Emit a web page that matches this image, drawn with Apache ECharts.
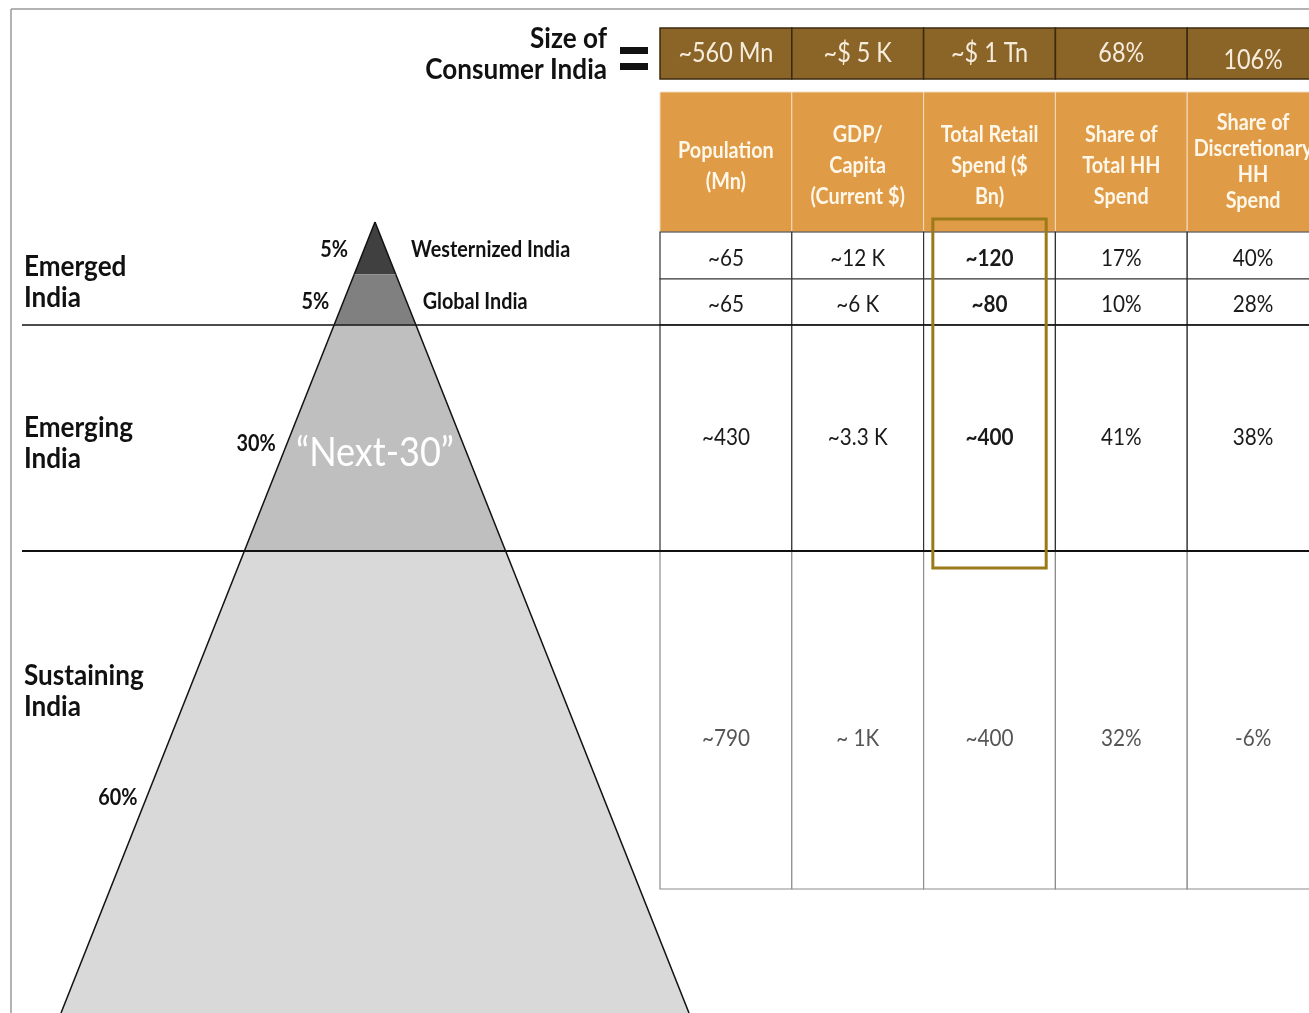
<!DOCTYPE html>
<html>
<head>
<meta charset="utf-8">
<script src="https://cdn.jsdelivr.net/npm/echarts@6/dist/echarts.min.js"></script>
<style>
  html, body { margin: 0; padding: 0; background: #fff; }
  #main { width: 1309px; height: 1013px; }
</style>
</head>
<body>
<div id="main"></div>
<script>
"use strict";

// ---- data ----
var tiers = ["Westernized India", "Global India", "\u201cNext-30\u201d", "Sustaining India"];
var tierShare = [5, 5, 30, 60];
var groups = ["Emerged\nIndia", "Emerging\nIndia", "Sustaining\nIndia"];
var columns = [
  "Population\n(Mn)",
  "GDP/\nCapita\n(Current $)",
  "Total Retail\nSpend ($\nBn)",
  "Share of\nTotal HH\nSpend",
  "Share of\nDiscretionary\nHH\nSpend"
];
var totals = ["~560 Mn", "~$ 5 K", "~$ 1 Tn", "68%", "106%"];
var population = ["~65", "~65", "~430", "~790"];
var gdpPerCapita = ["~12 K", "~6 K", "~3.3 K", "~ 1K"];
var retailSpend = ["~120", "~80", "~400", "~400"];
var shareOfTotal = ["17%", "10%", "41%", "32%"];
var shareOfDisc = ["40%", "28%", "38%", "-6%"];

// ---- layout ----
var FONT = "Lato, 'Open Sans', sans-serif";
var SQUEEZE = 0.9;
var tierColors = ["#404040", "#808080", "#bfbfbf", "#d9d9d9"];
var pyramidBreaks = [0, 0.066, 0.13, 0.416, 1];
var shareDepth = [0.0354, 0.101, 0.281, 0.728];
var shareGap = [16, 14, 11, 9];
var nameGap = [25, 16];
var bandRow = [28, 79];
var headRow = [92, 232];
var bodyRows = [232, 279, 325, 551, 889];
var bodyTextY = [259, 305, 438, 739];
var bandTextDy = [0, 0, 0, 0, 7];
var highlightRows = [219, 568];
var groupY = [282, 443, 691];

var colVals = [population, gdpPerCapita, retailSpend, shareOfTotal, shareOfDisc];

function txt(x, y, text, o) {
  return {
    type: "text", x: x, y: y, scaleX: SQUEEZE,
    style: {
      text: text,
      fill: o.fill || "#111",
      fontFamily: FONT,
      fontSize: o.size || 22,
      fontWeight: o.weight || "normal",
      lineHeight: o.lh,
      align: o.align || "center",
      verticalAlign: "middle"
    }
  };
}

function renderTier(params, api) {
  var i = api.value(0);
  var d0 = pyramidBreaks[i], d1 = pyramidBreaks[i + 1];
  var a = api.coord([-d0, d0]), b = api.coord([d0, d0]);
  var c = api.coord([d1, d1]), d = api.coord([-d1, d1]);
  var kids = [
    { type: "polygon", shape: { points: [a, b, c, d] }, style: { fill: tierColors[i] } },
    { type: "line", shape: { x1: a[0], y1: a[1], x2: d[0], y2: d[1] }, style: { stroke: "#111", lineWidth: 1.5 } },
    { type: "line", shape: { x1: b[0], y1: b[1], x2: c[0], y2: c[1] }, style: { stroke: "#111", lineWidth: 1.5 } }
  ];
  var sd = shareDepth[i];
  var lp = api.coord([-sd, sd]);
  kids.push(txt(lp[0] - shareGap[i], lp[1], api.value(1) + "%", { size: 22, weight: "bold", align: "right" }));
  if (i < 2) {
    var rp = api.coord([sd, sd]);
    kids.push(txt(rp[0] + nameGap[i], rp[1], tiers[i], { size: 22, weight: "bold", align: "left" }));
  } else if (i === 2) {
    var mp = api.coord([0, 0.292]);
    kids.push(txt(mp[0], mp[1], tiers[i], { size: 40, fill: "#ffffff" }));
  }
  return { type: "group", children: kids };
}

function cellBox(api, col, rows) {
  var cx = api.coord([col, 0])[0];
  var w = api.size([1, 0])[0];
  var t = api.coord([col, rows[0]])[1], bt = api.coord([col, rows[1]])[1];
  return { cx: cx, x: cx - w / 2, w: w, t: t, b: bt };
}

function renderBand(params, api) {
  var col = api.value(0);
  var k = cellBox(api, col, bandRow);
  return { type: "group", children: [
    { type: "rect", shape: { x: k.x, y: k.t, width: k.w, height: k.b - k.t },
      style: { fill: "#8b6428", stroke: "#3b2a10", lineWidth: 1.5 } },
    txt(k.cx, (k.t + k.b) / 2 + bandTextDy[col], totals[col], { size: 26, fill: "#f6ecdc" })
  ] };
}

function renderHead(params, api) {
  var col = api.value(0);
  var k = cellBox(api, col, headRow);
  var lines = columns[col].split("\n").length;
  return { type: "group", children: [
    { type: "rect", shape: { x: k.x, y: k.t, width: k.w, height: k.b - k.t },
      style: { fill: "#df9b45", stroke: "#f4dcc0", lineWidth: 1 } },
    txt(k.cx, (k.t + k.b) / 2 + (lines > 3 ? 0 : 4), columns[col],
      { size: 22, weight: "bold", fill: "#fff7ea", lh: lines > 3 ? 26 : 31 })
  ] };
}

function renderCell(params, api) {
  var col = api.value(0), r = api.value(1);
  var k = cellBox(api, col, [bodyRows[r], bodyRows[r + 1]]);
  var ty = api.coord([col, bodyTextY[r]])[1];
  var last = r === bodyRows.length - 2;
  return { type: "group", children: [
    { type: "rect", shape: { x: k.x, y: k.t, width: k.w, height: k.b - k.t },
      style: { fill: "#fff", stroke: last ? "#8c8c8c" : "#333", lineWidth: 1.2 } },
    txt(k.cx, ty, colVals[col][r], {
      size: 23, fill: last ? "#555" : "#1a1a1a",
      weight: (col === 2 && !last) ? "bold" : "normal"
    })
  ] };
}

function renderHighlight(params, api) {
  var col = api.value(0);
  var k = cellBox(api, col, highlightRows);
  var w = k.w * 0.86;
  return { type: "rect", shape: { x: k.cx - w / 2, y: k.t, width: w, height: k.b - k.t },
    style: { fill: "none", stroke: "#9b7a1a", lineWidth: 3 } };
}

function renderSeparator(params, api) {
  var r = api.value(0);
  var y = api.coord([0, bodyRows[r]])[1];
  return { type: "line", shape: { x1: 22, y1: y, x2: 1309, y2: y },
    style: { stroke: "#111", lineWidth: r === 3 ? 1.8 : 1.3 } };
}

function groupLabel(i) {
  return { type: "text", x: 24, y: groupY[i], scaleX: SQUEEZE,
    style: { text: groups[i], fill: "#111", fontFamily: FONT, fontSize: 29, fontWeight: "bold",
      lineHeight: 31, verticalAlign: "middle" } };
}

var cells = [];
for (var c = 0; c < columns.length; c++) {
  for (var r = 0; r < population.length; r++) cells.push([c, r]);
}

var chart = echarts.init(document.getElementById("main"));
chart.setOption({
  animation: false,
  backgroundColor: "#ffffff",
  grid: [
    { left: 61, top: 222, width: 628, height: 791 },
    { left: 660, top: 0, right: 0, bottom: 0 }
  ],
  xAxis: [
    { gridIndex: 0, type: "value", min: -1, max: 1, show: false },
    // table columns: 5 columns of ~131.8px, the last one runs past the right edge
    { gridIndex: 1, type: "value", min: -0.5, max: 4.424, show: false }
  ],
  yAxis: [
    { gridIndex: 0, type: "value", min: 0, max: 1, inverse: true, show: false },
    { gridIndex: 1, type: "value", min: 0, max: 1013, inverse: true, show: false }
  ],
  graphic: [
    { type: "line", shape: { x1: 11, y1: 9, x2: 1309, y2: 9 }, style: { stroke: "#b3b3b3", lineWidth: 2 } },
    { type: "line", shape: { x1: 11, y1: 9, x2: 11, y2: 1013 }, style: { stroke: "#9a9a9a", lineWidth: 1.5 } },
    { type: "text", x: 607, y: 54, scaleX: SQUEEZE, style: { text: "Size of\nConsumer India", fill: "#111", fontFamily: FONT,
      fontSize: 29, fontWeight: "bold", lineHeight: 31, align: "right", verticalAlign: "middle" } },
    { type: "rect", shape: { x: 620, y: 47, width: 28, height: 7 }, style: { fill: "#111" } },
    { type: "rect", shape: { x: 620, y: 63, width: 28, height: 7 }, style: { fill: "#111" } },
    groupLabel(0), groupLabel(1), groupLabel(2)
  ],
  series: [
    { type: "custom", name: "pyramid", xAxisIndex: 0, yAxisIndex: 0, renderItem: renderTier,
      data: tierShare.map(function (v, i) { return [i, v]; }) },
    { type: "custom", name: "totals", xAxisIndex: 1, yAxisIndex: 1, renderItem: renderBand,
      data: totals.map(function (v, i) { return [i, 0]; }) },
    { type: "custom", name: "header", xAxisIndex: 1, yAxisIndex: 1, renderItem: renderHead,
      data: columns.map(function (v, i) { return [i, 0]; }) },
    { type: "custom", name: "cells", xAxisIndex: 1, yAxisIndex: 1, renderItem: renderCell, data: cells },
    { type: "custom", name: "separators", xAxisIndex: 1, yAxisIndex: 1, renderItem: renderSeparator, z: 5,
      data: [[2, 0], [3, 0]] },
    { type: "custom", name: "highlight", xAxisIndex: 1, yAxisIndex: 1, renderItem: renderHighlight, z: 6,
      data: [[2, 0]] }
  ]
});
</script>
</body>
</html>
